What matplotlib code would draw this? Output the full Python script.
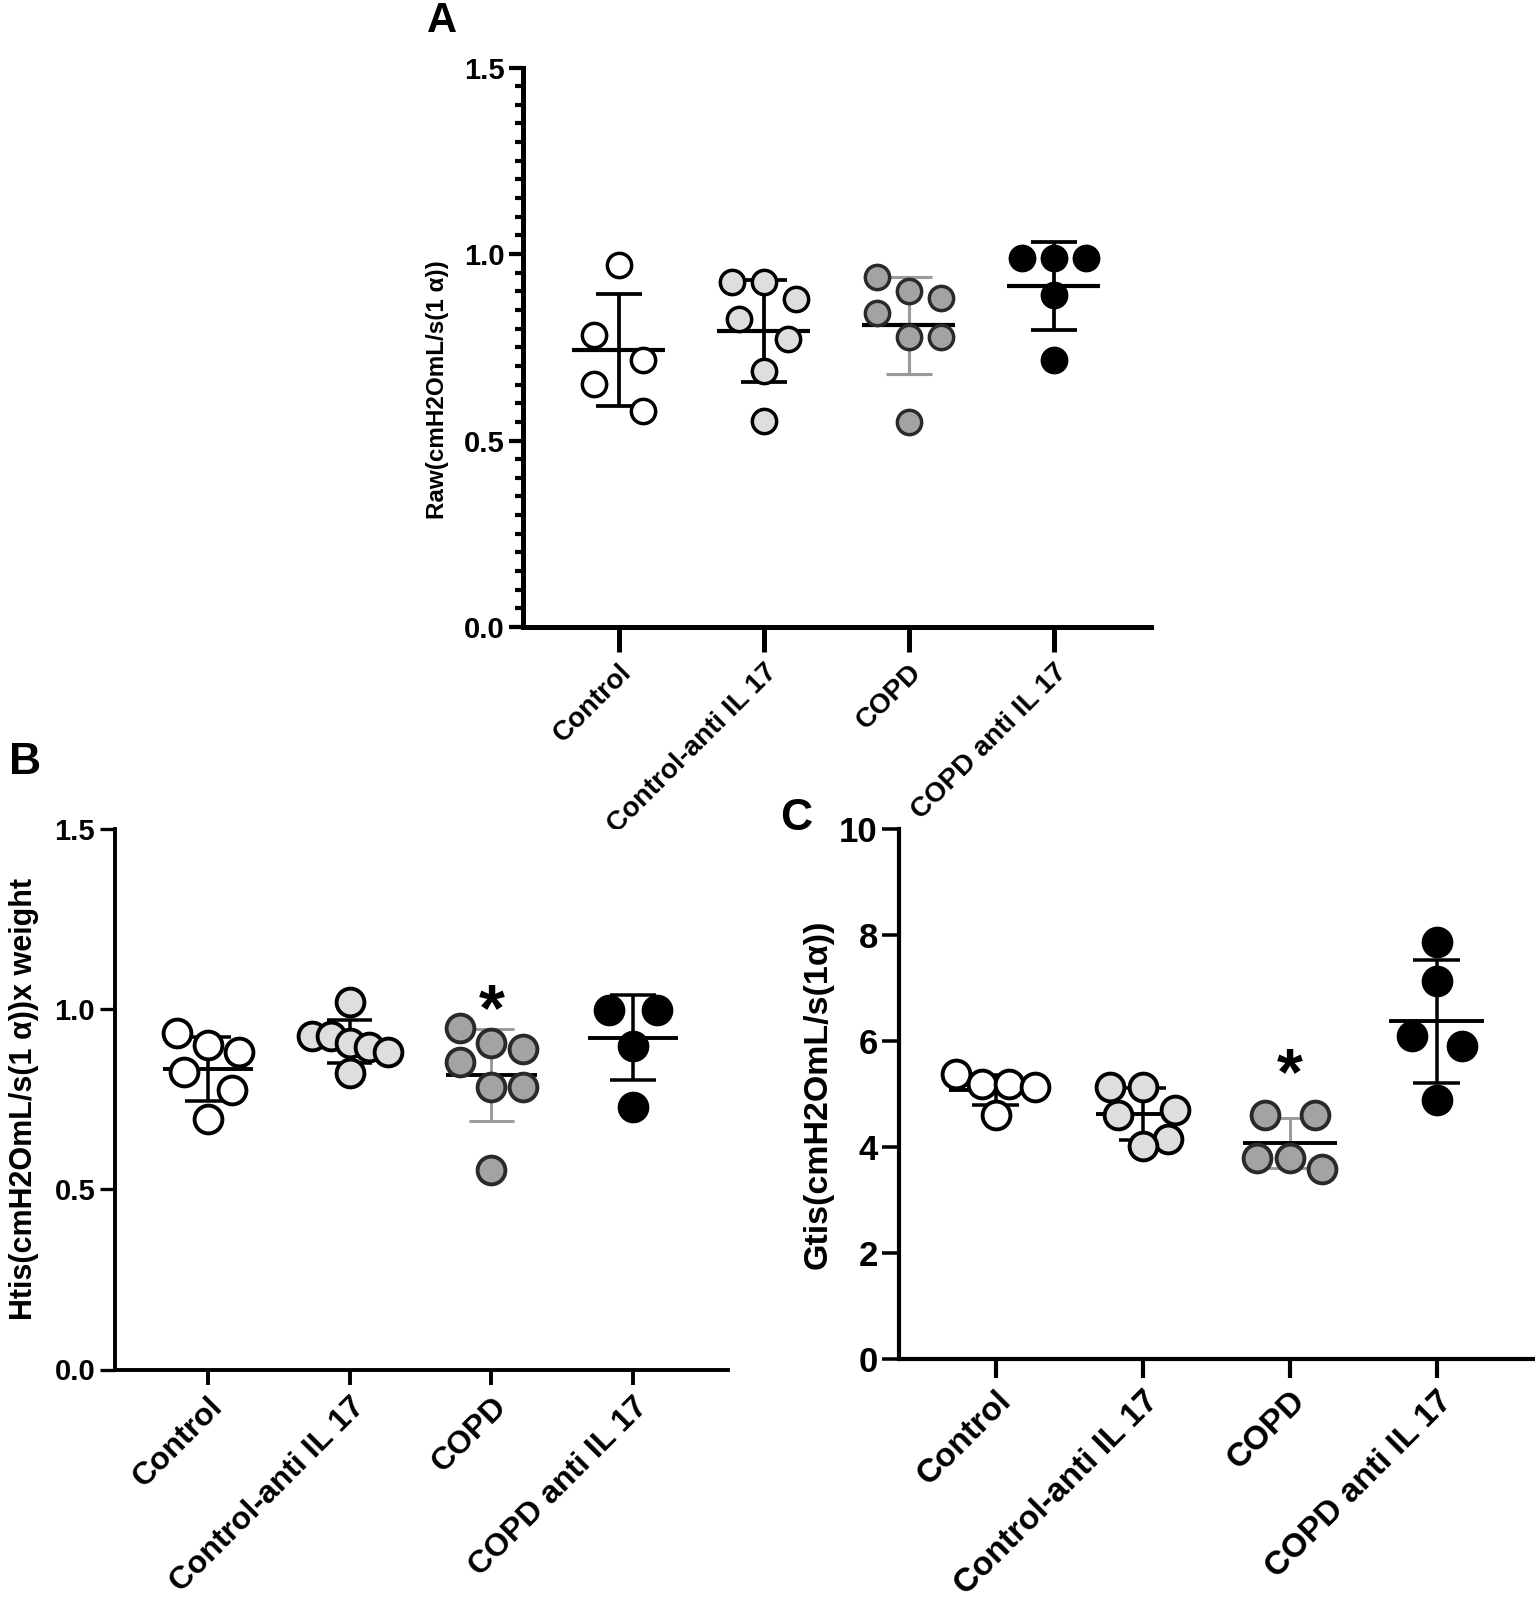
import numpy as np
import matplotlib
matplotlib.use("Agg")
import matplotlib.pyplot as plt
from matplotlib.ticker import MultipleLocator, FormatStrFormatter

plt.rcParams['font.family'] = ['Liberation Sans', 'DejaVu Sans']
plt.rcParams['font.weight'] = 'bold'

groups = ['Control', 'Control-anti IL 17', 'COPD', 'COPD anti IL 17']

# panel A - Raw
raw_control = [0.970, 0.782, 0.716, 0.651, 0.580]
raw_control_anti = [0.924, 0.924, 0.880, 0.826, 0.771, 0.686, 0.552]
raw_copd = [0.937, 0.900, 0.883, 0.842, 0.777, 0.777, 0.549]
raw_copd_anti = [0.990, 0.990, 0.990, 0.889, 0.716]
raw_mean = [0.742, 0.793, 0.809, 0.915]
raw_sd = [0.150, 0.136, 0.130, 0.118]

# panel B - Htis
htis_control = [0.933, 0.900, 0.881, 0.827, 0.775, 0.695]
htis_control_anti = [1.021, 0.925, 0.925, 0.907, 0.895, 0.880, 0.823]
htis_copd = [0.948, 0.907, 0.890, 0.852, 0.784, 0.784, 0.555]
htis_copd_anti = [0.998, 0.998, 0.898, 0.729]
htis_mean = [0.834, 0.910, 0.818, 0.921]
htis_sd = [0.089, 0.060, 0.128, 0.118]

# panel C - Gtis
gtis_control = [5.37, 5.18, 5.18, 5.14, 4.60]
gtis_control_anti = [5.14, 5.14, 4.69, 4.60, 4.16, 4.01]
gtis_copd = [4.60, 4.60, 3.80, 3.80, 3.58]
gtis_copd_anti = [7.86, 7.14, 6.09, 5.91, 4.88]
gtis_mean = [5.08, 4.62, 4.08, 6.37]
gtis_sd = [0.285, 0.49, 0.47, 1.165]

fills = ['white', '#dedede', '#a3a3a3', 'black']
edges = ['black', 'black', '#2a2a2a', 'black']
bar_colors = ['black', 'black', '#9a9a9a', 'black']

W, H = 1535, 1603


def px_rect(l, t, r, b):
    return [l / W, 1 - b / H, (r - l) / W, (b - t) / H]


def swarm_offsets(vals, tol):
    # group points of similar height and spread them sideways
    vals = np.asarray(vals)
    order = np.argsort(-vals, kind='stable')
    offs = np.zeros(len(vals))
    clusters = []
    cur = [order[0]]
    for i in order[1:]:
        if vals[cur[0]] - vals[i] <= tol:
            cur.append(i)
        else:
            clusters.append(cur)
            cur = [i]
    clusters.append(cur)
    for c in clusters:
        n = len(c)
        if n > 1:
            w = min(0.17 + 0.05 * (n - 2), 0.27)
            offs[c] = np.linspace(-w, w, n)
    return offs


def draw_panel(ax, data, means, sds, ymax, cfg):
    lw = cfg['lw']
    for i, vals in enumerate(data):
        m, s = means[i], sds[i]
        bc = bar_colors[i]
        blw = lw * 0.75 if bc != 'black' else lw * 0.9
        ax.vlines(i, m - s, m + s, color=bc, lw=blw, zorder=2)
        ax.hlines([m - s, m + s], i - 0.16, i + 0.16, color=bc, lw=blw, zorder=2)
        ax.hlines(m, i - 0.32, i + 0.32, color='black', lw=lw, zorder=2)
        offs = swarm_offsets(vals, 0.05 * ymax)
        ax.scatter(i + offs, vals, s=cfg['ms'] ** 2, facecolor=fills[i],
                   edgecolor=edges[i], linewidth=cfg['mew'], zorder=3)
    ax.set_xlim(-0.66, 3.67)
    ax.set_ylim(0, ymax)
    for sp in ['top', 'right']:
        ax.spines[sp].set_visible(False)
    for sp in ['left', 'bottom']:
        ax.spines[sp].set_linewidth(cfg['spine'])
    ax.set_xticks(range(4))
    ax.set_xticklabels(groups, rotation=45, ha='right', va='top',
                       rotation_mode='anchor', fontsize=cfg['xfs'])
    ax.tick_params(axis='x', length=cfg['xtick'], width=cfg['spine'], pad=5)
    ax.tick_params(axis='y', which='major', length=cfg['ytick'],
                   width=cfg['spine'] * 0.85, labelsize=cfg['yfs'], pad=3)
    ax.set_ylabel(cfg['ylabel'], fontsize=cfg['lfs'], fontweight='bold')
    ax.yaxis.set_label_coords(cfg['lx'], cfg['ly'])
    if cfg.get('star') is not None:
        fs = 48
        ax.annotate('*', xy=(2, cfg['star']), xytext=(0, -0.58 * fs),
                    textcoords='offset points', ha='center', va='baseline',
                    fontsize=fs)


fig = plt.figure(figsize=(W / 100, H / 100), dpi=100)

axA = fig.add_axes(px_rect(523, 67.5, 1151, 627))
draw_panel(axA, [raw_control, raw_control_anti, raw_copd, raw_copd_anti],
           raw_mean, raw_sd, 1.5,
           dict(lw=3.0, ms=17.5, mew=2.5, spine=3.6, xfs=20, yfs=21, lfs=17.5,
                xtick=18, ytick=10, ylabel='Raw(cmH2OmL/s(1 α))',
                lx=-0.118, ly=0.424, star=None))
axA.yaxis.set_major_locator(MultipleLocator(0.5))
axA.yaxis.set_minor_locator(MultipleLocator(0.05))
axA.yaxis.set_major_formatter(FormatStrFormatter('%.1f'))
axA.tick_params(axis='y', which='minor', length=5.5, width=3.0)

axB = fig.add_axes(px_rect(114.6, 829, 728, 1369.5))
draw_panel(axB, [htis_control, htis_control_anti, htis_copd, htis_copd_anti],
           htis_mean, htis_sd, 1.5,
           dict(lw=2.8, ms=20, mew=2.8, spine=2.8, xfs=23, yfs=21, lfs=22,
                xtick=11, ytick=11, ylabel='Htis(cmH2OmL/s(1 α))x weight',
                lx=-0.123, ly=0.5, star=1.048))
axB.yaxis.set_major_locator(MultipleLocator(0.5))
axB.yaxis.set_major_formatter(FormatStrFormatter('%.1f'))

axC = fig.add_axes(px_rect(898.6, 829, 1535, 1359))
draw_panel(axC, [gtis_control, gtis_control_anti, gtis_copd, gtis_copd_anti],
           gtis_mean, gtis_sd, 10,
           dict(lw=2.8, ms=20, mew=2.8, spine=3.0, xfs=24, yfs=25, lfs=24.5,
                xtick=14, ytick=12, ylabel='Gtis(cmH2OmL/s(1α))',
                lx=-0.1015, ly=0.5, star=5.73))
axC.yaxis.set_major_locator(MultipleLocator(2))

fig.text(442 / W, 1 - 21 / H, 'A', fontsize=30, ha='center', va='center')
fig.text(25 / W, 1 - 763 / H, 'B', fontsize=32, ha='center', va='center')
fig.text(796 / W, 1 - 819 / H, 'C', fontsize=32, ha='center', va='center')

fig.savefig('out.png', dpi=100)
